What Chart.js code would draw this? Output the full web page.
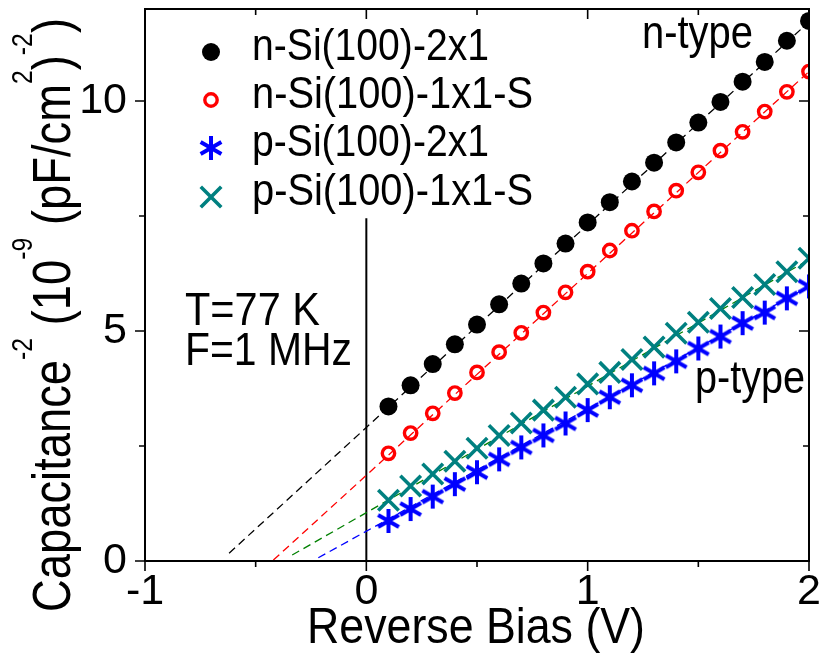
<!DOCTYPE html>
<html>
<head>
<meta charset="utf-8">
<script src="https://cdn.jsdelivr.net/npm/chart.js@4.4.1/dist/chart.umd.min.js"></script>
<style>
  html, body { margin: 0; padding: 0; background: #fff; }
  canvas { display: block; }
</style>
</head>
<body>
<canvas id="cv" width="820" height="656"></canvas>
<script>
/* ── data ── */
const xTicks = [-1, 0, 1, 2];
const xMinor = [-0.5, 0.5, 1.5];
const yTicks = [0, 5, 10];
const yMinor = [2.5, 7.5];

const bias = [0.1, 0.2, 0.3, 0.4, 0.5, 0.6, 0.7, 0.8, 0.9, 1.0,
              1.1, 1.2, 1.3, 1.4, 1.5, 1.6, 1.7, 1.8, 1.9, 2.0];
const nSi2x1  = [3.36, 3.82, 4.28, 4.71, 5.14, 5.58, 6.03, 6.47, 6.90, 7.36,
                 7.80, 8.25, 8.66, 9.10, 9.53, 9.98, 10.42, 10.85, 11.31, 11.74];
const nSi1x1S = [2.34, 2.78, 3.21, 3.65, 4.10, 4.54, 4.96, 5.40, 5.84, 6.29,
                 6.75, 7.18, 7.60, 8.05, 8.45, 8.92, 9.33, 9.77, 10.20, 10.64];
const pSi2x1  = [0.87, 1.13, 1.40, 1.67, 1.93, 2.21, 2.47, 2.73, 2.99, 3.28,
                 3.56, 3.82, 4.08, 4.34, 4.62, 4.88, 5.17, 5.40, 5.71, 5.97];
const pSi1x1S = [1.32, 1.63, 1.89, 2.17, 2.45, 2.73, 3.00, 3.28, 3.56, 3.85,
                 4.10, 4.38, 4.65, 4.95, 5.19, 5.49, 5.73, 6.01, 6.29, 6.58];

// linear fits, extrapolated to the intercept (end points)
const fitN2x1  = [[-0.62, 0.17], [2.0, 11.72]];
const fitN1x1S = [[-0.42, 0.02], [2.0, 10.64]];
const fitP2x1  = [[-0.217, 0.07], [2.0, 5.97]];
const fitP1x1S = [[-0.335, 0.13], [2.0, 6.55]];
const zeroLine = [[0, 0], [0, 7.45]];

const labels = ['n-Si(100)-2x1', 'n-Si(100)-1x1-S', 'p-Si(100)-2x1', 'p-Si(100)-1x1-S'];

/* ── styles ── */
const FONT = '"Liberation Sans", Arial, sans-serif';
const BLUE = '#0000ff', TEAL = '#008080', RED = '#ff0000', GREEN = '#008000';

// asterisk marker (vertical + two diagonals)
function makeAsterisk(color) {
  const c = document.createElement('canvas');
  c.width = 28; c.height = 28;
  const g = c.getContext('2d');
  g.strokeStyle = color; g.lineWidth = 4; g.lineCap = 'butt';
  [90, 30, 150].forEach(a => {
    const r = a * Math.PI / 180, dx = Math.cos(r) * 12, dy = Math.sin(r) * 12;
    g.beginPath(); g.moveTo(14 - dx, 14 - dy); g.lineTo(14 + dx, 14 + dy); g.stroke();
  });
  return c;
}
const asterisk = makeAsterisk(BLUE);

const pts = (xs, ys) => xs.map((x, i) => ({ x, y: ys[i] }));
const seg = a => a.map(p => ({ x: p[0], y: p[1] }));

const markers = [
  { pointStyle: 'circle', radius: 9, borderWidth: 0, backgroundColor: '#000', borderColor: '#000' },
  { pointStyle: 'circle', radius: 6.2, borderWidth: 3.4, backgroundColor: 'rgba(0,0,0,0)', borderColor: RED },
  { pointStyle: asterisk, radius: 12, borderWidth: 0, backgroundColor: BLUE, borderColor: BLUE },
  { pointStyle: 'crossRot', radius: 14.5, borderWidth: 3.6, backgroundColor: TEAL, borderColor: TEAL },
];

function scatterSet(label, ys, m) {
  return {
    label, data: pts(bias, ys), showLine: false, clip: 0,
    pointStyle: m.pointStyle, pointRadius: m.radius, pointBorderWidth: m.borderWidth,
    pointBackgroundColor: m.backgroundColor, pointBorderColor: m.borderColor,
    pointHoverRadius: m.radius,
  };
}
function lineSet(data, color, dash, width) {
  return {
    data: seg(data), showLine: true, pointRadius: 0, borderColor: color,
    borderWidth: width, borderDash: dash, fill: false, clip: 0,
  };
}

/* ── text helpers ── */
function fitText(ctx, s, x, y, size, width, align) {
  ctx.save();
  ctx.font = size + 'px ' + FONT;
  const sx = width / ctx.measureText(s).width;
  ctx.translate(x, y);
  ctx.scale(sx, 1);
  ctx.textAlign = align || 'left';
  ctx.textBaseline = 'alphabetic';
  ctx.fillStyle = '#000';
  ctx.fillText(s, 0, 0);
  ctx.restore();
}

const yTitle = [
  ['Capacitance', 0], ['-2', 1], [' (10', 0], ['-9', 1],
  [' (pF/cm', 0], ['2', 1], [')', 0], ['-2', 1], [')', 0],
];

const decor = {
  id: 'decor',
  afterDraw(chart) {
    const ctx = chart.ctx, a = chart.chartArea;
    const xs = chart.scales.x, ys = chart.scales.y;
    ctx.save();
    ctx.strokeStyle = '#000';
    ctx.lineWidth = 2;
    ctx.strokeRect(a.left, a.top, a.right - a.left, a.bottom - a.top);

    ctx.lineWidth = 1.6;
    ctx.beginPath();
    const tx = (v, len) => {
      const p = xs.getPixelForValue(v);
      ctx.moveTo(p, a.bottom); ctx.lineTo(p, a.bottom + len);
      ctx.moveTo(p, a.top);    ctx.lineTo(p, a.top + len);
    };
    const ty = (v, len) => {
      const p = ys.getPixelForValue(v);
      ctx.moveTo(a.left - len, p); ctx.lineTo(a.left, p);
      ctx.moveTo(a.right - len, p); ctx.lineTo(a.right, p);
    };
    xTicks.forEach(v => tx(v, 10)); xMinor.forEach(v => tx(v, 6));
    yTicks.forEach(v => ty(v, 10)); yMinor.forEach(v => ty(v, 6));
    ctx.stroke();

    // legend
    const rows = [52, 100, 148, 197];
    rows.forEach((ry, i) => {
      const m = markers[i];
      ctx.save();
      ctx.fillStyle = m.backgroundColor;
      ctx.strokeStyle = m.borderColor;
      ctx.lineWidth = m.borderWidth;
      Chart.helpers.drawPoint(ctx, m, 211, ry);
      ctx.restore();
      fitText(ctx, labels[i], 252, ry + 8, 44, i % 2 ? 281 : 237, 'left');
    });

    // annotations
    fitText(ctx, 'n-type', 642, 48, 46, 111, 'left');
    fitText(ctx, 'p-type', 695, 393, 46, 110, 'left');
    fitText(ctx, 'T=77 K', 185, 325, 47, 135, 'left');
    fitText(ctx, 'F=1 MHz', 185, 365, 47, 167, 'left');

    // x title
    fitText(ctx, 'Reverse Bias (V)', 476, 643, 50, 338, 'center');

    // y title with superscripts (text "up" points to screen left)
    const big = 53, small = 29, rise = 38, base = 70;
    let total = 0;
    yTitle.forEach(([s, sup]) => {
      ctx.font = (sup ? small : big) + 'px ' + FONT;
      total += ctx.measureText(s).width;
    });
    const sx = 594 / total;
    ctx.fillStyle = '#000';
    ctx.textBaseline = 'alphabetic';
    ctx.textAlign = 'left';
    let cx = -total / 2;
    yTitle.forEach(([s, sup]) => {
      ctx.font = (sup ? small : big) + 'px ' + FONT;
      const w = ctx.measureText(s).width;
      ctx.save();
      ctx.translate(base - (sup ? rise : 0), 315 - cx * sx);
      ctx.rotate(-Math.PI / 2);
      ctx.scale(sx, 1);
      ctx.fillText(s, 0, 0);
      ctx.restore();
      cx += w;
    });
    ctx.restore();
  }
};

new Chart(document.getElementById('cv'), {
  type: 'scatter',
  data: {
    datasets: [
      scatterSet(labels[0], nSi2x1, markers[0]),
      scatterSet(labels[1], nSi1x1S, markers[1]),
      scatterSet(labels[3], pSi1x1S, markers[3]),
      scatterSet(labels[2], pSi2x1, markers[2]),
      lineSet(fitN2x1, '#000', [8, 5], 1.3),
      lineSet(fitN1x1S, RED, [8, 5], 1.3),
      lineSet(fitP1x1S, GREEN, [8, 5], 1.3),
      lineSet(fitP2x1, BLUE, [8, 5], 1.3),
      lineSet(zeroLine, '#000', [], 2),
    ]
  },
  options: {
    responsive: false,
    animation: false,
    devicePixelRatio: 1,
    layout: { autoPadding: false, padding: { top: 9, right: 11, left: 0, bottom: 0 } },
    plugins: { legend: { display: false }, tooltip: { enabled: false } },
    scales: {
      x: {
        type: 'linear', min: -1, max: 2,
        afterBuildTicks: s => { s.ticks = xTicks.map(v => ({ value: v })); },
        afterFit: s => { s.height = 95; s.paddingLeft = 0; s.paddingRight = 0; },
        grid: { display: false }, border: { display: false },
        ticks: { font: { family: FONT, size: 43 }, color: '#000', padding: -3,
                 maxRotation: 0, autoSkip: false },
      },
      y: {
        type: 'linear', min: 0, max: 12,
        afterBuildTicks: s => { s.ticks = yTicks.map(v => ({ value: v })); },
        afterFit: s => { s.width = 145; s.paddingTop = 0; s.paddingBottom = 0; },
        grid: { display: false }, border: { display: false },
        ticks: { font: { family: FONT, size: 43 }, color: '#000', padding: 10, autoSkip: false },
      }
    }
  },
  plugins: [decor]
});
</script>
</body>
</html>
